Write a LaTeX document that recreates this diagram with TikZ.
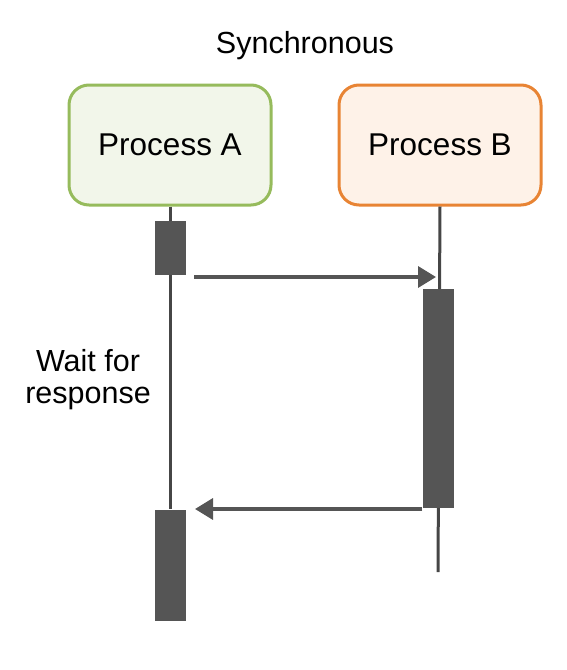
\documentclass[tikz,border=0pt]{standalone}
\usepackage{fontspec}
\setmainfont{Liberation Sans}
\usetikzlibrary{arrows.meta}
\definecolor{greenline}{RGB}{150,187,92}
\definecolor{greenfill}{RGB}{242,246,234}
\definecolor{orangeline}{RGB}{232,132,52}
\definecolor{orangefill}{RGB}{254,242,232}
\definecolor{darkbar}{RGB}{85,85,85}
\definecolor{lifeline}{RGB}{70,70,70}
\tikzset{
  procbox/.style={draw, line width=3pt, rounded corners=20pt, minimum width=202pt, minimum height=120pt, inner sep=0pt, font=\fontsize{31.5}{36}\selectfont},
  actbar/.style={fill=darkbar, draw=none, minimum width=31pt, inner sep=0pt},
  lline/.style={draw=lifeline, line width=3pt},
  msg/.style={draw=darkbar, line width=3.5pt, -{Triangle[length=18pt,width=21pt]}},
  label/.style={font=\fontsize{30.5}{32}\selectfont, inner sep=0pt, align=center}
}
\begin{document}
\begin{tikzpicture}[x=1pt,y=-1pt]
\useasboundingbox (0,0) rectangle (566,670);
\node[label] (title) at (305,46) {Synchronous};
\node[procbox, draw=greenline, fill=greenfill] (boxA) at (170,145) {Process A};
\node[procbox, draw=orangeline, fill=orangefill] (boxB) at (440,145) {Process B};
% activation bars
\node[actbar, minimum height=54pt] (actA1) at (170,248) {};
\node[actbar, minimum height=111pt] (actA2) at (170,565) {};
\node[actbar, minimum height=219pt] (actB) at (438,398) {};
\coordinate (endB) at (438,572);
% lifelines
\draw[lline] (boxA.south) -- (actA1.north);
\draw[lline] (actA1.south) -- (actA2.north);
\draw[lline] (boxB.south) -- (endB);
\node[actbar, minimum height=219pt] at (actB) {};
% messages
\coordinate (m1s) at (194,277);
\coordinate (m1e) at (436,277);
\coordinate (m2e) at (195,509);
\draw[msg] (m1s) -- (m1e);
\draw[msg] (actB.south west |- m2e) -- (m2e);
\node[label] (wait) at (88,380) {Wait for\\response};
\end{tikzpicture}
\end{document}
